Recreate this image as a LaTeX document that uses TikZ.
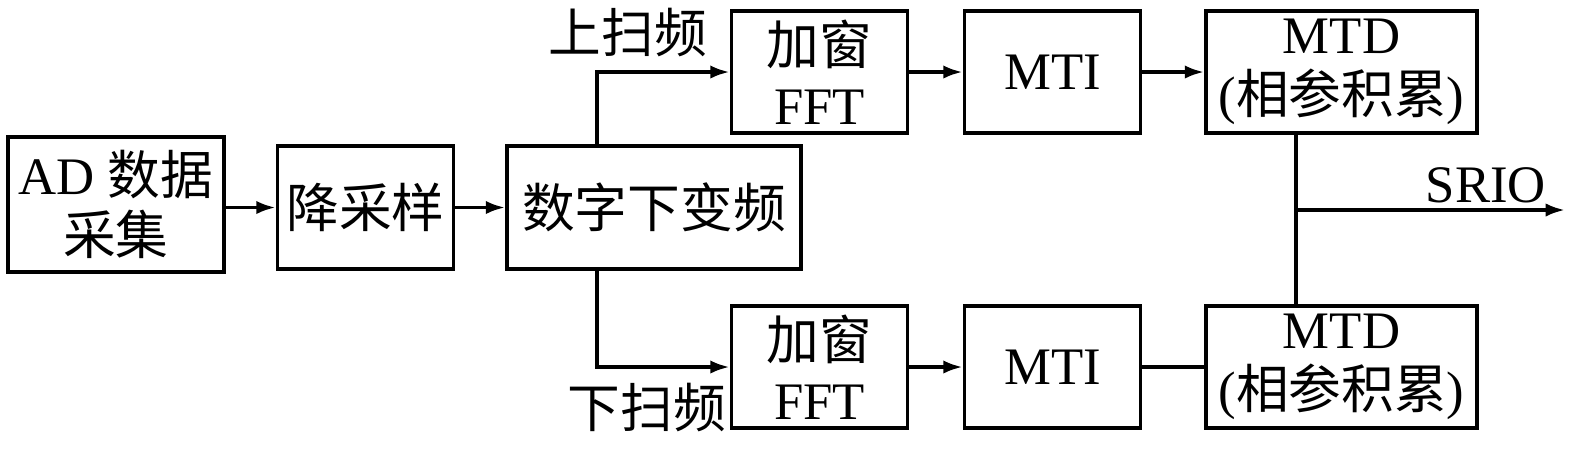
\documentclass[tikz,border=0pt]{standalone}
\usepackage{fontspec}
\setmainfont{Liberation Serif}
\newfontfamily\cjk{Noto Sans CJK SC}
\newcommand{\zh}[1]{{\cjk #1}}
\usetikzlibrary{arrows.meta,positioning,calc}

\begin{document}
\begin{tikzpicture}[
    >={Latex[length=5.5pt,width=3.8pt]},
    txt/.style={font=\fontsize{15}{17}\selectfont},
    box/.style={draw, rectangle, txt, line width=1.05pt, align=center, inner sep=0pt},
    blk/.style={box, minimum width=1.76cm, minimum height=1.22cm},
    link/.style={->, line width=1pt},
    wire/.style={line width=1pt}
]
    \useasboundingbox (0,0) rectangle (15.75,-4.49);

    % Front end
    \node[box, minimum width=2.16cm, minimum height=1.35cm] (ad) at (1.16,-2.045) {AD \zh{数据}\\\zh{采集}};
    \node[blk, minimum height=1.23cm] (dec) at (3.655,-2.075) {\zh{降采样}};
    \node[box, minimum width=2.94cm, minimum height=1.23cm] (ddc) at (6.54,-2.075) {\zh{数字下变频}};

    % Up sweep chain
    \node[blk] (fftU) at (8.195,-0.72) {\zh{加窗}\\FFT};
    \node[blk] (mtiU) at (10.525,-0.72) {MTI};
    \node[box, minimum width=2.71cm, minimum height=1.22cm] (mtdU) at (13.415,-0.72) {MTD\\(\zh{相参积累})};

    % Down sweep chain
    \node[blk] (fftD) at (8.195,-3.67) {\zh{加窗}\\FFT};
    \node[blk] (mtiD) at (10.525,-3.67) {MTI};
    \node[box, minimum width=2.71cm, minimum height=1.22cm] (mtdD) at (13.415,-3.67) {MTD\\(\zh{相参积累})};

    % Labels
    \node[txt] (upLbl) at (6.28,-0.33) {\zh{上扫频}};
    \node[txt] (dnLbl) at (6.47,-4.08) {\zh{下扫频}};
    \node[txt, anchor=base] (srioLbl) at (14.86,-2.02) {SRIO};

    % Connections
    \draw[link] (ad.east |- dec.west) -- (dec.west);
    \draw[link] (dec.east) -- (ddc.west);
    \draw[link] ([xshift=-0.57cm]ddc.north) |- (fftU.west);
    \draw[link] ([xshift=-0.57cm]ddc.south) |- (fftD.west);
    \draw[link] (fftU.east) -- (mtiU.west);
    \draw[link] (mtiU.east) -- (mtdU.west);
    \draw[link] (fftD.east) -- (mtiD.west);
    \draw[wire] (mtiD.east) -- (mtdD.west);

    % Output
    \coordinate (join) at ([xshift=-0.455cm]mtdU.south |- 0,-2.10);
    \coordinate (srio) at (15.65,-2.10);
    \draw[wire] ([xshift=-0.455cm]mtdU.south) -- ([xshift=-0.455cm]mtdD.north);
    \draw[link] (join) -- (srio);
\end{tikzpicture}
\end{document}
